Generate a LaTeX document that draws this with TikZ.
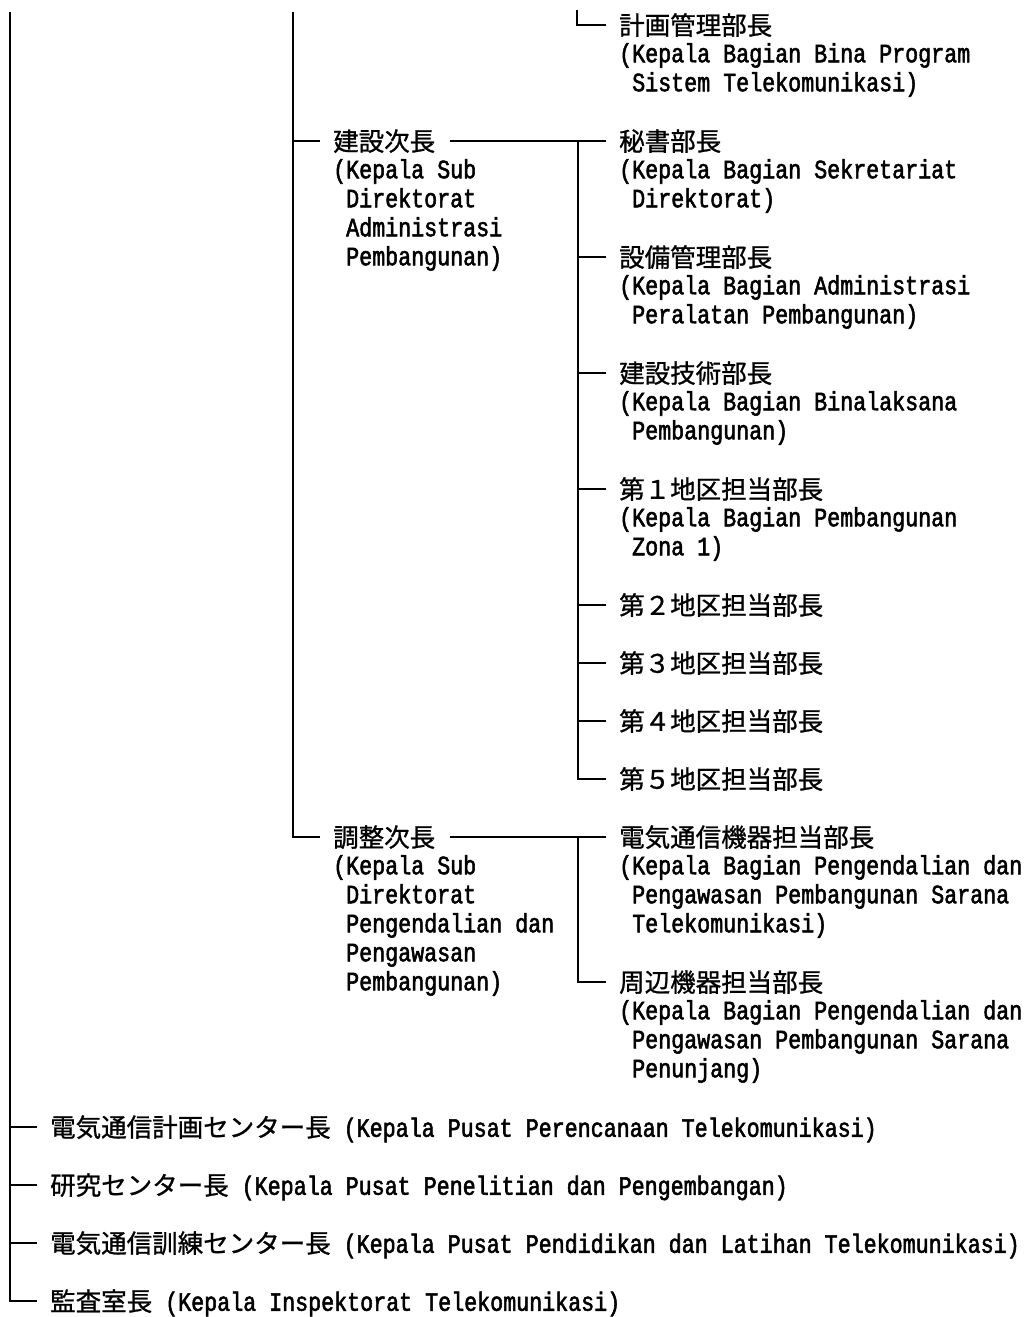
\documentclass[tikz,border=0pt]{standalone}
\usepackage{fontspec}
\newfontfamily\jp{Noto Sans CJK JP}[FakeBold=1.0]
\newfontfamily\lat{Liberation Mono}[FakeStretch=0.8176, FakeBold=2.0]
\newcommand\jpfont{\jp\fontsize{25.5}{29}\selectfont}
\newcommand\latfont{\lat\fontsize{26.5}{29}\selectfont}
\tikzset{
  jpn/.style={anchor=west, inner xsep=0pt, inner ysep=0pt, text height=22pt, text depth=2.5pt, font=\jpfont},
  latn/.style={anchor=west, inner xsep=0pt, inner ysep=0pt, text height=18.5pt, text depth=2pt, font=\latfont},
  conn/.style={line width=1.8pt, shorten >=13pt},
  link/.style={line width=1.3pt, shorten >=13pt, shorten <=15pt},
}
\begin{document}
\begin{tikzpicture}[x=1pt,y=-1pt]
\useasboundingbox (0,0) rectangle (1029,1317);
% ---------- top ----------
\node[jpn]  (keikaku)  at (619,25) {計画管理部長};
\node[latn] (keikaku1) at (619,54) {(Kepala Bagian Bina Program};
\node[latn] (keikaku2) at (632,83) {Sistem Telekomunikasi)};
% ---------- kensetsu jicho ----------
\node[jpn]  (kens)  at (333,141) {建設次長};
\node[latn] (kens1) at (333,170) {(Kepala Sub};
\node[latn] (kens2) at (346,199) {Direktorat};
\node[latn] (kens3) at (346,228) {Administrasi};
\node[latn] (kens4) at (346,257) {Pembangunan)};
% children
\node[jpn]  (hisho)  at (619,141) {秘書部長};
\node[latn] (hisho1) at (619,170) {(Kepala Bagian Sekretariat};
\node[latn] (hisho2) at (632,199) {Direktorat)};
\node[jpn]  (setsubi)  at (619,257) {設備管理部長};
\node[latn] (setsubi1) at (619,286) {(Kepala Bagian Administrasi};
\node[latn] (setsubi2) at (632,315) {Peralatan Pembangunan)};
\node[jpn]  (gijutsu)  at (619,373) {建設技術部長};
\node[latn] (gijutsu1) at (619,402) {(Kepala Bagian Binalaksana};
\node[latn] (gijutsu2) at (632,431) {Pembangunan)};
\node[jpn]  (dai1)  at (619,489) {第１地区担当部長};
\node[latn] (dai1a) at (619,518) {(Kepala Bagian Pembangunan};
\node[latn] (dai1b) at (632,547) {Zona 1)};
\node[jpn]  (dai2) at (619,605) {第２地区担当部長};
\node[jpn]  (dai3) at (619,663) {第３地区担当部長};
\node[jpn]  (dai4) at (619,721) {第４地区担当部長};
\node[jpn]  (dai5) at (619,779) {第５地区担当部長};
% ---------- chosei jicho ----------
\node[jpn]  (chosei)  at (333,837) {調整次長};
\node[latn] (chosei1) at (333,866) {(Kepala Sub};
\node[latn] (chosei2) at (346,895) {Direktorat};
\node[latn] (chosei3) at (346,924) {Pengendalian dan};
\node[latn] (chosei4) at (346,953) {Pengawasan};
\node[latn] (chosei5) at (346,982) {Pembangunan)};
\node[jpn]  (denki)  at (619,837) {電気通信機器担当部長};
\node[latn] (denki1) at (619,866) {(Kepala Bagian Pengendalian dan};
\node[latn] (denki2) at (632,895) {Pengawasan Pembangunan Sarana};
\node[latn] (denki3) at (632,924) {Telekomunikasi)};
\node[jpn]  (shuhen)  at (619,982) {周辺機器担当部長};
\node[latn] (shuhen1) at (619,1011) {(Kepala Bagian Pengendalian dan};
\node[latn] (shuhen2) at (632,1040) {Pengawasan Pembangunan Sarana};
\node[latn] (shuhen3) at (632,1069) {Penunjang)};
% ---------- bottom ----------
\node[jpn] (keikakuc) at (50,1127) {電気通信計画センター長\latfont\ (Kepala Pusat Perencanaan Telekomunikasi)};
\node[jpn] (kenkyu)   at (50,1185) {研究センター長\latfont\ (Kepala Pusat Penelitian dan Pengembangan)};
\node[jpn] (kunren)   at (50,1243) {電気通信訓練センター長\latfont\ (Kepala Pusat Pendidikan dan Latihan Telekomunikasi)};
\node[jpn] (kansa)    at (50,1301) {監査室長\latfont\ (Kepala Inspektorat Telekomunikasi)};
% ---------- connectors ----------
\coordinate (topA) at (10,12);
\coordinate (topB) at (293,12);
\coordinate (topC) at (577,10);
\coordinate (subx) at (578,0);
% left bus
\draw[conn] (topA) |- (kansa.west);
\draw[conn] (topA |- keikakuc.west) -- (keikakuc.west);
\draw[conn] (topA |- kenkyu.west) -- (kenkyu.west);
\draw[conn] (topA |- kunren.west) -- (kunren.west);
% middle bus
\draw[conn] (topB) |- (chosei.west);
\draw[conn] (topB |- kens.west) -- (kens.west);
% top corner
\draw[conn] (topC) |- (keikaku.west);
% kensetsu sub-bracket
\draw[link] (kens.east) -- (hisho.west);
\draw[conn] (subx |- hisho.west) |- (dai5.west);
\draw[conn] (subx |- setsubi.west) -- (setsubi.west);
\draw[conn] (subx |- gijutsu.west) -- (gijutsu.west);
\draw[conn] (subx |- dai1.west) -- (dai1.west);
\draw[conn] (subx |- dai2.west) -- (dai2.west);
\draw[conn] (subx |- dai3.west) -- (dai3.west);
\draw[conn] (subx |- dai4.west) -- (dai4.west);
% chosei sub-bracket
\draw[link] (chosei.east) -- (denki.west);
\draw[conn] (subx |- denki.west) |- (shuhen.west);
\end{tikzpicture}
\end{document}
